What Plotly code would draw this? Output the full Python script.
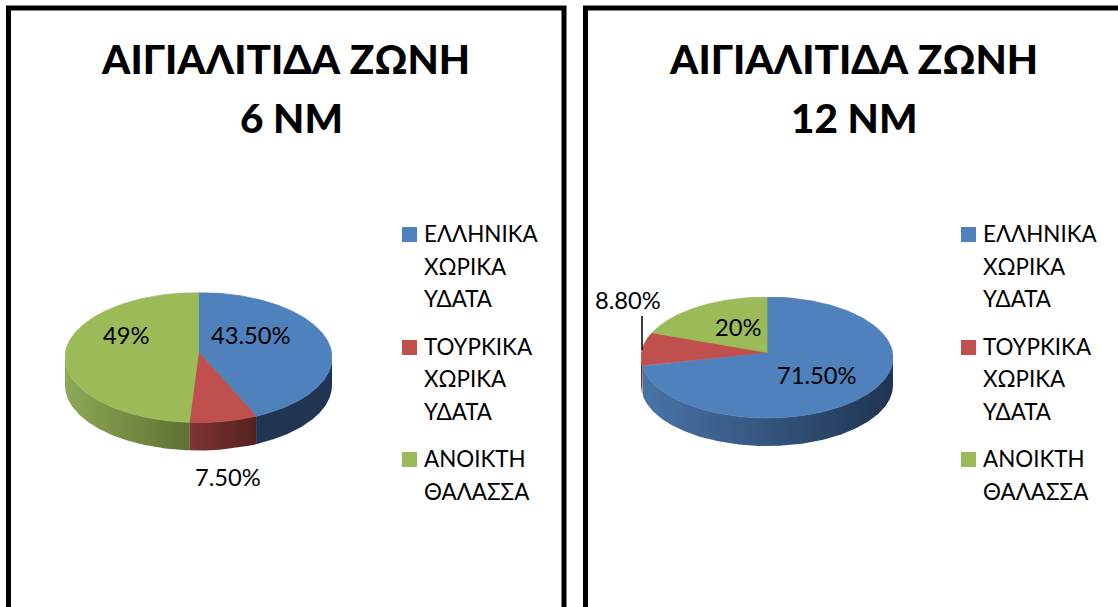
import numpy as np
import plotly.graph_objects as go

W, H = 1118, 607
FONT = "Lato, 'Open Sans', sans-serif"

# ---- data ----
categories = ["ΕΛΛΗΝΙΚΑ ΧΩΡΙΚΑ ΥΔΑΤΑ", "ΤΟΥΡΚΙΚΑ ΧΩΡΙΚΑ ΥΔΑΤΑ", "ΑΝΟΙΚΤΗ ΘΑΛΑΣΣΑ"]
# slice sizes as drawn in the picture (the printed labels differ slightly)
values_6nm = [42.9, 8.2, 48.9]
values_12nm = [72.7, 9.0, 18.3]
labels_6nm = ["43.50%", "7.50%", "49%"]
labels_12nm = ["71.50%", "8.80%", "20%"]
title_line1 = "ΑΙΓΙΑΛΙΤΙΔΑ ΖΩΝΗ"
title_6nm = "6 ΝΜ"
title_12nm = "12 ΝΜ"
legend_lines = [["ΕΛΛΗΝΙΚΑ", "ΧΩΡΙΚΑ", "ΥΔΑΤΑ"], ["ΤΟΥΡΚΙΚΑ", "ΧΩΡΙΚΑ", "ΥΔΑΤΑ"], ["ΑΝΟΙΚΤΗ", "ΘΑΛΑΣΣΑ"]]
top_colors = ["#4F81BD", "#C0504D", "#9BBB59"]
side_grad = [("#4A74A8", "#1F3552"), ("#7E3432", "#552120"), ("#8DAA55", "#5E7033")]

# ---- layout parameters (pixels) ----
DEPTH = 28
APEX = 0.085


def add_pie(fig, values, cx, cy, rx, ry, xa, ya, side_colors):
    # axes: the unit circle maps to the ellipse of the pie
    extent = 1 + 2 * DEPTH / ry
    fig.layout[xa] = dict(domain=[(cx - rx) / W, (cx + rx) / W], range=[-1, 1], visible=False)
    fig.layout[ya] = dict(
        domain=[1 - (cy + ry + 2 * DEPTH) / H, 1 - (cy - ry) / H],
        range=[-extent, 1], visible=False,
    )
    xs, ys = xa.replace("axis", ""), ya.replace("axis", "")
    total = float(sum(values))
    edges = np.cumsum([0] + list(values)) / total * 2 * np.pi
    d = DEPTH / ry
    # side walls
    for i in range(len(values)):
        t = np.linspace(edges[i], edges[i + 1], 400)
        t = t[np.cos(t) <= 0]
        if len(t) < 2:
            continue
        px, py = np.sin(t), np.cos(t)
        c0, c1 = side_colors[i]
        fig.add_trace(go.Scatter(
            x=np.r_[px, px[::-1], px[0]], y=np.r_[py, py[::-1] - d, py[0]],
            mode="lines", line=dict(width=0), hoverinfo="skip", showlegend=False,
            fill="toself",
            fillgradient=dict(type="horizontal", colorscale=[[0, c0], [1, c1]]) if c0 != c1 else None,
            fillcolor=c0 if c0 == c1 else None,
            xaxis=xs, yaxis=ys,
        ))
    # top face
    for i in range(len(values)):
        t = np.linspace(edges[i], edges[i + 1], 300)
        fig.add_trace(go.Scatter(
            x=np.r_[0, np.sin(t), 0], y=np.r_[APEX, np.cos(t), APEX],
            mode="lines", line=dict(width=0.8, color=top_colors[i]), fill="toself",
            fillcolor=top_colors[i],
            name=categories[i], hoverinfo="name", showlegend=False,
            xaxis=xs, yaxis=ys,
        ))


fig = go.Figure()
add_pie(fig, values_6nm, 198.5, 357.5, 133.5, 65, "xaxis", "yaxis",
        [("#1F3552", "#1F3552"), side_grad[1], side_grad[2]])
add_pie(fig, values_12nm, 767, 357.5, 126, 60.5, "xaxis2", "yaxis2",
        [side_grad[0], side_grad[1], side_grad[2]])

ann, shapes = [], []


def text(x, y, s, size, bold=False, anchor="center"):
    ann.append(dict(
        x=x / W, y=1 - y / H, xref="paper", yref="paper", text=s,
        showarrow=False, xanchor=anchor, yanchor="middle",
        font=dict(family=FONT, size=size, color="#000000", weight=900 if bold else 400),
        borderpad=0, borderwidth=0,
    ))


# frames
for x0, x1 in [(8.5, 564), (585.5, 1130)]:
    shapes.append(dict(type="rect", xref="paper", yref="paper",
                       x0=x0 / W, x1=x1 / W, y0=-0.05, y1=1 - 8 / H,
                       line=dict(color="#000000", width=5), layer="below"))

# titles
text(285.5, 58.5, title_line1, 40.5, True)
text(291, 117.5, title_6nm, 40.5, True)
text(853.5, 58.5, title_line1, 40.5, True)
text(854, 117.5, title_12nm, 40.5, True)

# legends
ys_leg = [[233, 266, 298], [346, 378, 411], [458, 491]]
sw_ys = [234.5, 347.5, 459.5]
for sw_x, tx_x in [(402, 423.5), (961, 982.5)]:
    for k, lines in enumerate(legend_lines):
        shapes.append(dict(type="rect", xref="paper", yref="paper",
                           x0=sw_x / W, x1=(sw_x + 15) / W,
                           y0=1 - (sw_ys[k] + 7.5) / H, y1=1 - (sw_ys[k] - 7.5) / H,
                           fillcolor=top_colors[k], line=dict(width=0)))
        for s, y in zip(lines, ys_leg[k]):
            text(tx_x, y, s, 22.4, anchor="left")

# data labels
text(251, 335, labels_6nm[0], 23.7)
text(228, 477, labels_6nm[1], 23.7)
text(126, 335, labels_6nm[2], 23.7)
text(817, 375, labels_12nm[0], 23.7)
text(628, 300, labels_12nm[1], 23.7)
text(738, 327, labels_12nm[2], 23.7)
shapes.append(dict(type="line", xref="paper", yref="paper", x0=642 / W, x1=642 / W,
                   y0=1 - 316 / H, y1=1 - 350 / H, line=dict(color="#000000", width=1.5)))

fig.update_layout(
    width=W, height=H, margin=dict(l=0, r=0, t=0, b=0),
    paper_bgcolor="#FFFFFF", plot_bgcolor="rgba(0,0,0,0)",
    showlegend=False, annotations=ann, shapes=shapes,
)
fig.write_html("out.html", config={"displayModeBar": False},
               post_script="document.body.style.margin='0';document.body.style.overflow='hidden';")
